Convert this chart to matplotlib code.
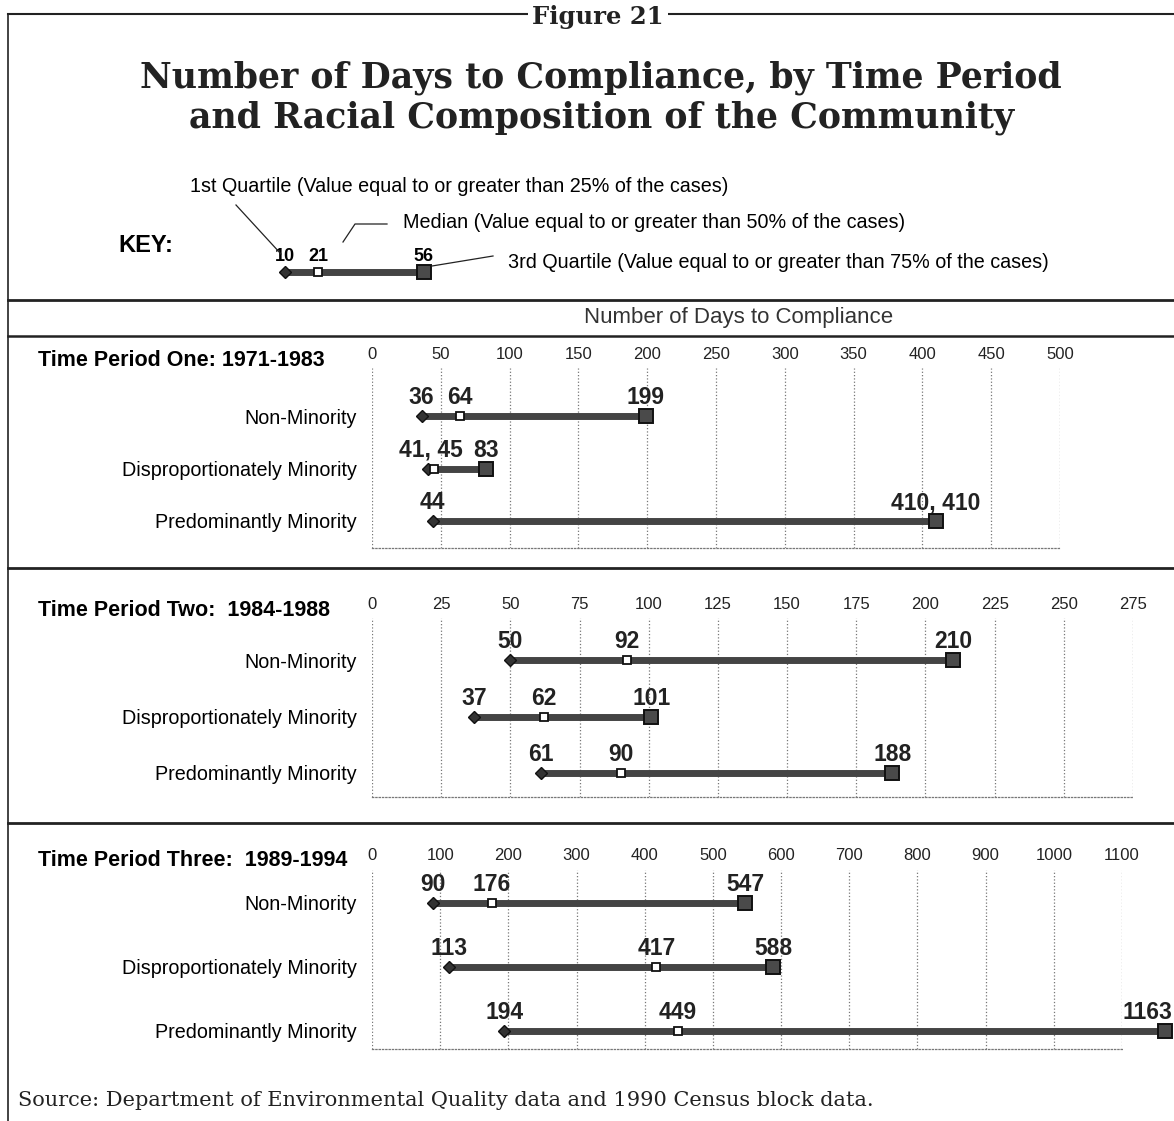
import matplotlib
matplotlib.use("Agg")
import matplotlib.pyplot as plt
from matplotlib.lines import Line2D

W, H = 1174, 1121

# ---- data ----
groups = ["Non-Minority", "Disproportionately Minority", "Predominantly Minority"]
period_titles = ["Time Period One: 1971-1983",
                 "Time Period Two:  1984-1988",
                 "Time Period Three:  1989-1994"]

p1_ticks = [0, 50, 100, 150, 200, 250, 300, 350, 400, 450, 500]
p1_q1 = [36, 41, 44]
p1_med = [64, 45, 410]
p1_q3 = [199, 83, 410]

p2_ticks = [0, 25, 50, 75, 100, 125, 150, 175, 200, 225, 250, 275]
p2_q1 = [50, 37, 61]
p2_med = [92, 62, 90]
p2_q3 = [210, 101, 188]

p3_ticks = [0, 100, 200, 300, 400, 500, 600, 700, 800, 900, 1000, 1100]
p3_q1 = [90, 113, 194]
p3_med = [176, 417, 449]
p3_q3 = [547, 588, 1163]

key_vals = [10, 21, 56]

SERIF = ["DejaVu Serif"]
NARROW = ["Liberation Sans Narrow", "Liberation Sans", "DejaVu Sans"]
SANS = ["Liberation Sans", "DejaVu Sans"]


def fx(px):
    return px / W


def fy(py):
    return 1 - py / H


def hline(fig, y, x0=8, x1=W, lw=1.5):
    fig.add_artist(Line2D([fx(x0), fx(x1)], [fy(y), fy(y)], color="#222", lw=lw))


def draw_row(ax, y, q1, med, q3):
    ax.hlines(y, q1, q3, color="#444", lw=5, zorder=2, clip_on=False)
    ax.plot(q1, y, "D", ms=6.5, color="#333", mec="#111", zorder=3, clip_on=False)
    ax.plot(med, y, "s", ms=5.5, mfc="white", mec="#111", mew=1.3, zorder=4, clip_on=False)
    ax.plot(q3, y, "s", ms=10, mfc="#4a4a4a", mec="#111", mew=1.4, zorder=4, clip_on=False)


def value_labels(ax, y, q1, med, q3, xmax):
    close = 0.03 * xmax
    lab = dict(textcoords="offset points", va="center", annotation_clip=False,
               fontsize=16.5, fontweight="bold", family=SANS, color="#222")

    def put(text, x):
        if x > xmax:
            # runs past the last tick: keep the label inside the page
            ax.annotate(text, (x, y), xytext=(5, 13), ha="right", **lab)
        else:
            ax.annotate(text, (x, y), xytext=(0, 13), ha="center", **lab)

    if med - q1 < close:
        put(f"{q1}, {med}", (q1 + med) / 2)
        put(f"{q3}", q3)
    elif q3 - med < close:
        put(f"{q1}", q1)
        put(f"{med}, {q3}", (med + q3) / 2)
    else:
        for v in (q1, med, q3):
            put(f"{v}", v)


def panel(fig, title, ticks, q1s, meds, q3s, right, top, rows, bottom, label_y):
    sp = (rows[-1] - rows[0]) / 2
    ax = fig.add_axes([fx(372), fy(bottom), (right - 372) / W, (bottom - top) / H])
    ax.set_xlim(ticks[0], ticks[-1])
    ax.set_ylim(2 + (bottom - rows[-1]) / sp, -(rows[0] - top) / sp)
    ax.xaxis.tick_top()
    ax.set_xticks(ticks)
    ax.set_xticklabels([str(t) for t in ticks], family=NARROW, fontsize=12, color="#222")
    ax.tick_params(axis="x", length=0, pad=(top - label_y) * 0.72 - 6)
    ax.set_yticks([0, 1, 2])
    ax.set_yticklabels(groups, family=NARROW, fontsize=14.2)
    ax.tick_params(axis="y", length=0, pad=11)
    ax.grid(axis="x", linestyle=":", color="#777", lw=0.9)
    for s in ("top", "right", "left"):
        ax.spines[s].set_visible(False)
    ax.spines["bottom"].set_linestyle(":")
    ax.spines["bottom"].set_color("#777")
    ax.spines["bottom"].set_linewidth(0.9)
    xmax = ticks[-1]
    for i in range(3):
        draw_row(ax, i, q1s[i], meds[i], q3s[i])
        value_labels(ax, i, q1s[i], meds[i], q3s[i], xmax)
    fig.text(fx(38), fy(label_y + 6), title, family=SANS, fontsize=15.5,
             fontweight="bold", va="center", ha="left")
    return ax


fig = plt.figure(figsize=(W / 100, H / 100), dpi=100)
fig.patch.set_facecolor("white")

# frame
hline(fig, 14, lw=1.5)
fig.add_artist(Line2D([fx(8), fx(8)], [fy(14), fy(H)], color="#222", lw=1.2))
fig.text(fx(598), fy(17), "Figure 21", family=SERIF, fontsize=17.5, fontweight="bold",
         ha="center", va="center", color="#222",
         bbox=dict(facecolor="white", edgecolor="none", pad=3))

fig.text(fx(601), fy(78), "Number of Days to Compliance, by Time Period",
         family=SERIF, fontsize=25, fontweight="bold", ha="center", va="center", color="#222")
fig.text(fx(602), fy(118), "and Racial Composition of the Community",
         family=SERIF, fontsize=25, fontweight="bold", ha="center", va="center", color="#222")

# key
fig.text(fx(190), fy(187), "1st Quartile (Value equal to or greater than 25% of the cases)",
         family=NARROW, fontsize=14.2, ha="left", va="center")
fig.text(fx(403), fy(222), "Median (Value equal to or greater than 50% of the cases)",
         family=NARROW, fontsize=14.2, ha="left", va="center")
fig.text(fx(508), fy(262), "3rd Quartile (Value equal to or greater than 75% of the cases)",
         family=NARROW, fontsize=14.2, ha="left", va="center")
fig.text(fx(118), fy(246), "KEY:", family=SANS, fontsize=17, fontweight="bold",
         ha="left", va="center")
for xs, ys in [([236, 281], [205, 254]), ([343, 355, 387], [242, 224, 224]),
               ([432, 493], [266, 256])]:
    fig.add_artist(Line2D([fx(x) for x in xs], [fy(y) for y in ys], color="#222", lw=0.9))

kax = fig.add_axes([fx(255), fy(292), fx(436) - fx(255), 40 / H])
kax.set_xlim(0, 60)
kax.set_ylim(1, -1)
kax.axis("off")
draw_row(kax, 0, *key_vals)
for v in key_vals:
    kax.annotate(str(v), (v, 0), xytext=(0, 11), textcoords="offset points",
                 ha="center", va="center", fontsize=13, fontweight="bold", family=NARROW)

# section dividers
hline(fig, 300, lw=2)
hline(fig, 336, lw=1.8)
fig.text(fx(739), fy(318), "Number of Days to Compliance", family=SANS, fontsize=16,
         ha="center", va="center", color="#333")
hline(fig, 568, lw=2)
hline(fig, 823, lw=2)

panel(fig, period_titles[0], p1_ticks, p1_q1, p1_med, p1_q3,
      right=1060, top=368, rows=[416, 468, 521], bottom=548, label_y=354)
panel(fig, period_titles[1], p2_ticks, p2_q1, p2_med, p2_q3,
      right=1133, top=618, rows=[660, 714, 773], bottom=797, label_y=604)
panel(fig, period_titles[2], p3_ticks, p3_q1, p3_med, p3_q3,
      right=1122, top=870, rows=[903, 963, 1031], bottom=1049, label_y=855)

fig.text(fx(18), fy(1100), "Source: Department of Environmental Quality data and 1990 Census block data.",
         family=SERIF, fontsize=15, ha="left", va="center", color="#222")

fig.savefig("out.png", dpi=100, facecolor="white")
